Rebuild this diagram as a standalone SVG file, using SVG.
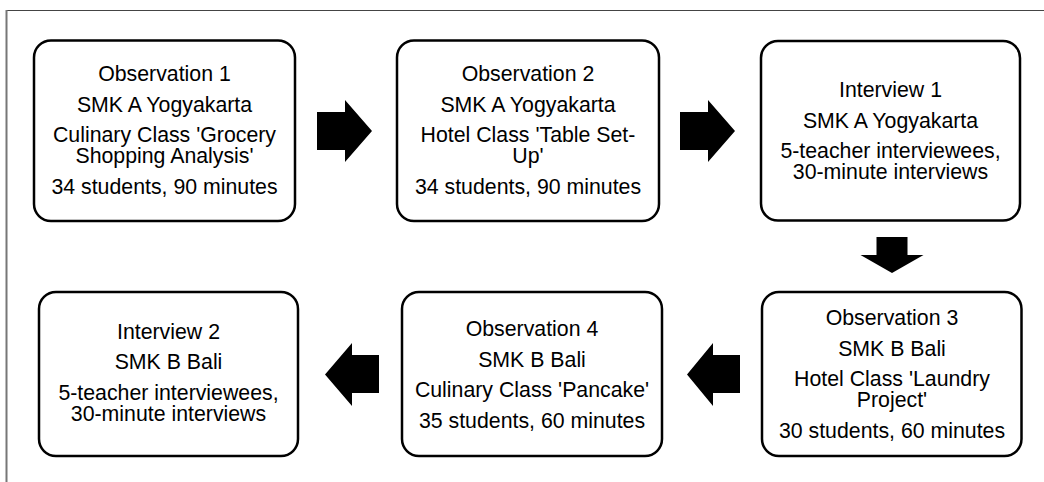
<svg xmlns="http://www.w3.org/2000/svg" width="1044" height="482" viewBox="0 0 1044 482">
<style>
.box{fill:#fff;stroke:#000;stroke-width:2.5}
.t{font-family:"Liberation Sans",Arial,sans-serif;font-size:21.3px;fill:#000;text-anchor:middle}
.arr{fill:#000;stroke:none}
</style>
<rect width="1044" height="482" fill="#fff"/>
<g id="frame">
<line x1="6" y1="10.5" x2="1044" y2="10.5" stroke="#444" stroke-width="1.2"/>
<line x1="6.5" y1="10" x2="6.5" y2="482" stroke="#777" stroke-width="2"/>
</g>
<g id="obs1">
<rect class="box" x="34" y="40.5" width="261" height="180.5" rx="17"/>
<text class="t" x="164.5" y="81">Observation 1</text>
<text class="t" x="164.5" y="111.5">SMK A Yogyakarta</text>
<text class="t" x="164.5" y="142">Culinary Class 'Grocery</text>
<text class="t" x="164.5" y="163">Shopping Analysis'</text>
<text class="t" x="164.5" y="194">34 students, 90 minutes</text>
</g>
<g id="obs2">
<rect class="box" x="397" y="40.5" width="262" height="180.5" rx="17"/>
<text class="t" x="528" y="81">Observation 2</text>
<text class="t" x="528" y="111.5">SMK A Yogyakarta</text>
<text class="t" x="528" y="142">Hotel Class 'Table Set-</text>
<text class="t" x="528" y="163">Up'</text>
<text class="t" x="528" y="194">34 students, 90 minutes</text>
</g>
<g id="int1">
<rect class="box" x="761" y="41" width="259" height="179.5" rx="17"/>
<text class="t" x="890.5" y="97">Interview 1</text>
<text class="t" x="890.5" y="127.5">SMK A Yogyakarta</text>
<text class="t" x="890.5" y="158">5-teacher interviewees,</text>
<text class="t" x="890.5" y="179">30-minute interviews</text>
</g>
<g id="obs3">
<rect class="box" x="762" y="292" width="259.5" height="164" rx="17"/>
<text class="t" x="892" y="325">Observation 3</text>
<text class="t" x="892" y="355.5">SMK B Bali</text>
<text class="t" x="892" y="386">Hotel Class 'Laundry</text>
<text class="t" x="892" y="407">Project'</text>
<text class="t" x="892" y="438">30 students, 60 minutes</text>
</g>
<g id="obs4">
<rect class="box" x="402" y="292" width="260" height="164" rx="17"/>
<text class="t" x="532" y="336">Observation 4</text>
<text class="t" x="532" y="366.5">SMK B Bali</text>
<text class="t" x="532" y="397">Culinary Class 'Pancake'</text>
<text class="t" x="532" y="427.5">35 students, 60 minutes</text>
</g>
<g id="int2">
<rect class="box" x="39" y="292" width="259" height="164" rx="17"/>
<text class="t" x="168.5" y="338.5">Interview 2</text>
<text class="t" x="168.5" y="369">SMK B Bali</text>
<text class="t" x="168.5" y="399.5">5-teacher interviewees,</text>
<text class="t" x="168.5" y="420.5">30-minute interviews</text>
</g>
<g id="connectors">
<polygon class="arr" points="317,112 345,112 345,100 372,131 345,162 345,150 317,150"/>
<polygon class="arr" points="680,112 708,112 708,100 735,131 708,162 708,150 680,150"/>
<polygon class="arr" points="876.5,237 907.5,237 907.5,255 923.5,255 892,273 860.5,255 876.5,255"/>
<polygon class="arr" points="740,355 713,355 713,343 687,374.5 713,406 713,393 740,393"/>
<polygon class="arr" points="379,355 352,355 352,343 325,374.5 352,406 352,393 379,393"/>
</g>
</svg>
